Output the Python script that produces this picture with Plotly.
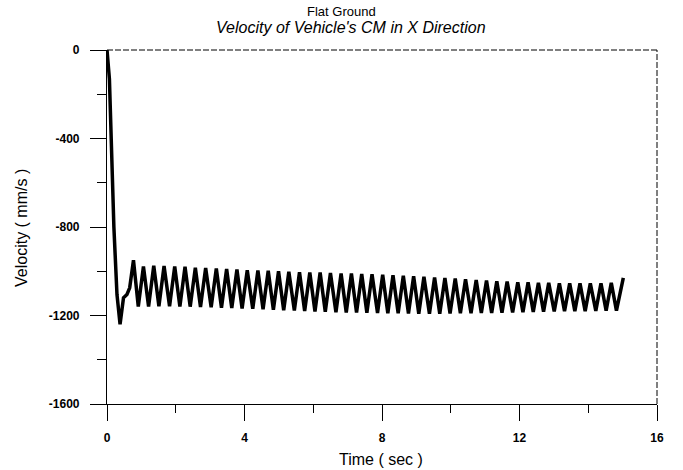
import plotly.graph_objects as go

# Initial transient (time s, velocity mm/s)
start_t = [0.0, 0.07, 0.20, 0.29, 0.38, 0.48, 0.58, 0.66, 0.77]
start_v = [0, -130, -800, -1105, -1240, -1120, -1105, -1075, -950]

# Oscillation troughs
trough_t = [0.91, 1.21, 1.51, 1.82, 2.12, 2.42, 2.72, 3.03, 3.33, 3.63, 3.93, 4.24,
            4.54, 4.84, 5.14, 5.45, 5.75, 6.05, 6.35, 6.66, 6.96, 7.26, 7.56, 7.87,
            8.17, 8.47, 8.77, 9.07, 9.38, 9.68, 9.98, 10.28, 10.59, 10.89, 11.19, 11.49,
            11.80, 12.10, 12.40, 12.70, 13.01, 13.31, 13.61, 13.91, 14.22, 14.52, 14.82]
trough_v = [-1160, -1160, -1158, -1158, -1160, -1160, -1162, -1163, -1165, -1166, -1168, -1170,
            -1172, -1174, -1176, -1178, -1180, -1182, -1183, -1185, -1186, -1187, -1188, -1189,
            -1190, -1190, -1191, -1192, -1192, -1192, -1191, -1190, -1190, -1189, -1188, -1187,
            -1186, -1185, -1184, -1183, -1182, -1181, -1180, -1180, -1179, -1178, -1178]

# Oscillation peaks
peak_t = [1.06, 1.36, 1.66, 1.97, 2.27, 2.57, 2.87, 3.18, 3.48, 3.78, 4.08, 4.39,
          4.69, 4.99, 5.29, 5.60, 5.90, 6.20, 6.50, 6.81, 7.11, 7.41, 7.71, 8.02,
          8.32, 8.62, 8.92, 9.22, 9.53, 9.83, 10.13, 10.43, 10.74, 11.04, 11.34, 11.64,
          11.95, 12.25, 12.55, 12.85, 13.16, 13.46, 13.76, 14.06, 14.37, 14.67]
peak_v = [-978, -975, -976, -978, -980, -984, -985, -988, -990, -992, -995, -997,
          -998, -1000, -1002, -1004, -1006, -1006, -1008, -1010, -1010, -1012, -1014, -1016,
          -1018, -1020, -1022, -1025, -1028, -1030, -1033, -1036, -1040, -1042, -1045, -1047,
          -1050, -1050, -1052, -1052, -1054, -1054, -1055, -1055, -1054, -1052]

end_t = [15.02]
end_v = [-1030]

x_ticks = [0, 4, 8, 12, 16]
y_ticks = [0, -400, -800, -1200, -1600]

# assemble the series
xs = list(start_t)
ys = list(start_v)
for i in range(len(trough_t)):
    xs.append(trough_t[i]); ys.append(trough_v[i])
    if i < len(peak_t):
        xs.append(peak_t[i]); ys.append(peak_v[i])
xs += end_t
ys += end_v

fig = go.Figure()
fig.add_trace(go.Scatter(x=xs, y=ys, mode="lines",
                         line=dict(color="black", width=3.5), showlegend=False,
                         hoverinfo="skip"))

FONT = "Liberation Sans, Arial, sans-serif"
L, R, T, B = 107, 26, 50, 66
W, H = 683, 470
pw, ph = W - L - R, H - T - B

fig.update_layout(
    width=W, height=H,
    margin=dict(l=L, r=R, t=T, b=B),
    paper_bgcolor="white", plot_bgcolor="white",
    font=dict(family=FONT, color="black"),
)

fig.update_xaxes(
    range=[0, 16], tickvals=x_ticks, ticktext=[str(v) for v in x_ticks],
    ticks="outside", ticklen=16, tickwidth=1, tickcolor="black",
    minor=dict(dtick=2, ticks="outside", ticklen=8, tickwidth=1, tickcolor="black", showgrid=False),
    showline=True, linecolor="black", linewidth=1.2, mirror=False,
    showgrid=False, zeroline=False,
    tickfont=dict(family=FONT, size=12, weight="bold", color="black"),
    ticklabelstandoff=6,
)
fig.update_yaxes(
    range=[-1600, 0], tickvals=y_ticks, ticktext=[str(v) for v in y_ticks],
    ticks="outside", ticklen=16, tickwidth=1, tickcolor="black",
    minor=dict(dtick=200, ticks="outside", ticklen=9, tickwidth=1, tickcolor="black", showgrid=False),
    showline=True, linecolor="black", linewidth=1.2, mirror=False,
    showgrid=False, zeroline=False,
    tickfont=dict(family=FONT, size=12, weight="bold", color="black"),
    ticklabelstandoff=8,
)

# top and right frame (broken line as in the scan)
fig.add_shape(type="line", xref="paper", yref="paper", x0=0, x1=1, y0=1, y1=1,
              line=dict(color="black", width=1, dash="6px,2px"))
fig.add_shape(type="line", xref="paper", yref="paper", x0=1, x1=1, y0=0, y1=1,
              line=dict(color="black", width=1, dash="6px,2px"))

def px_x(p):
    return (p - L) / pw

def px_y(p):
    return (H - B - p) / ph

fig.add_annotation(text="Flat Ground", xref="paper", yref="paper",
                   x=px_x(341.5), y=px_y(11), xanchor="center", yanchor="middle",
                   showarrow=False, font=dict(family=FONT, size=13, color="black"))
fig.add_annotation(text="<i>Velocity of Vehicle's CM in X Direction</i>", xref="paper", yref="paper",
                   x=px_x(351), y=px_y(27), xanchor="center", yanchor="middle",
                   showarrow=False, font=dict(family=FONT, size=16, color="black"))
fig.add_annotation(text="Time ( sec )", xref="paper", yref="paper",
                   x=px_x(381), y=px_y(459), xanchor="center", yanchor="middle",
                   showarrow=False, font=dict(family=FONT, size=16, color="black"))
fig.add_annotation(text="Velocity ( mm/s )", xref="paper", yref="paper",
                   x=px_x(22), y=px_y(228), xanchor="center", yanchor="middle", textangle=-90,
                   showarrow=False, font=dict(family=FONT, size=16, color="black"))

# place the figure at the page origin (remove default body margin)
fig.write_html("out.html", config={"displayModeBar": False},
               post_script="document.body.style.margin='0';")
